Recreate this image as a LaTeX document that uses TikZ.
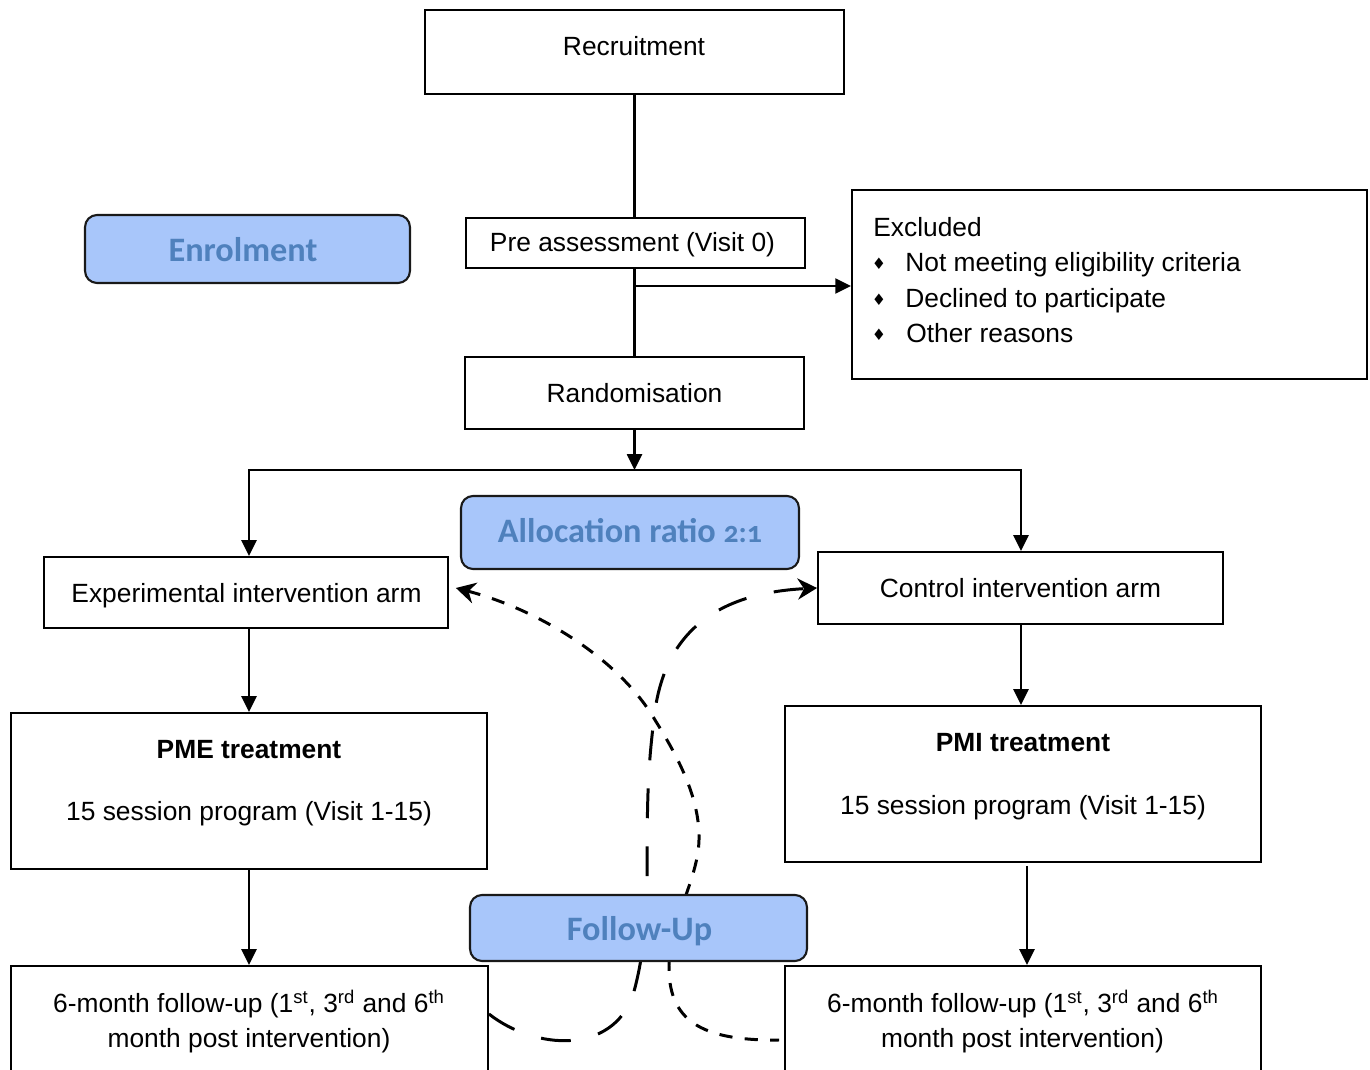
\documentclass[tikz,border=0pt]{standalone}
\usepackage{fontspec}
\setmainfont{Liberation Sans}
\newfontfamily\bluefont[Numbers=OldStyle]{Carlito}
\newfontfamily\symfont{DejaVu Sans}
\usetikzlibrary{arrows.meta}
\definecolor{bfill}{RGB}{168,198,250}
\definecolor{btext}{RGB}{79,129,189}
\begin{document}
\begin{tikzpicture}[x=0.02cm,y=-0.02cm,
  box/.style={draw=black, line width=1.1pt, fill=white, inner sep=0pt},
  bluebox/.style={draw=black!90, line width=1.2pt, fill=bfill, rounded corners=0.24cm, inner sep=0pt},
  txt/.style={anchor=base, inner sep=0pt, font=\fontsize{15}{19.8}\selectfont},
  btxt/.style={anchor=base, inner sep=0pt, text=btext, font=\bluefont\bfseries\fontsize{19.5}{23}\selectfont},
  bul/.style={inner sep=0pt, font=\symfont\fontsize{9}{10}\selectfont},
  conn/.style={line width=1.3pt},
  arr/.style={conn, -{Triangle[length=9pt,width=8.5pt]}},
  longdash/.style={line width=1.7pt, dash pattern=on 17pt off 16pt},
  shortdash/.style={line width=1.7pt, dash pattern=on 7.5pt off 7pt}
]
\useasboundingbox (0,0) rectangle (1370,1070);
\clip (0,0) rectangle (1370,1070);
\fill[white] (0,0) rectangle (1370,1070);

% boxes
\node[box, minimum width=8.38cm, minimum height=1.68cm] (rec) at (634.5,52) {};
\node[txt] (rect) at (634,55.5) {Recruitment};

\node[box, minimum width=6.78cm, minimum height=1.0cm] (pre) at (635.5,243) {};
\node[txt] (pret) at (632.5,251.5) {Pre assessment (Visit 0)};

\node[box, minimum width=10.3cm, minimum height=3.78cm] (excl) at (1109.5,284.5) {};
\node[txt, anchor=base west] (ex0) at (873,236.5) {Excluded};
\node[bul] (b1) at (879,264) {♦};
\node[txt, anchor=base west] (ex1) at (905,271.5) {Not meeting eligibility criteria};
\node[bul] (b2) at (879,300) {♦};
\node[txt, anchor=base west] (ex2) at (905,307.5) {Declined to participate};
\node[bul] (b3) at (879,335) {♦};
\node[txt, anchor=base west] (ex3) at (906,342.5) {Other reasons};

\node[box, minimum width=6.78cm, minimum height=1.44cm] (rand) at (634.5,393) {};
\node[txt] (randt) at (634.5,402.5) {Randomisation};

\node[box, minimum width=8.08cm, minimum height=1.42cm] (exp) at (246,592.5) {};
\node[txt] (expt) at (246.5,602.5) {Experimental intervention arm};

\node[box, minimum width=8.1cm, minimum height=1.44cm] (ctrl) at (1020.5,588) {};
\node[txt] (ctrlt) at (1020.5,597.5) {Control intervention arm};

\node[box, minimum width=9.52cm, minimum height=3.12cm] (pme) at (249,791) {};
\node[txt, font=\fontsize{15}{19.8}\selectfont\bfseries] (pmet) at (249,758.5) {PME treatment};
\node[txt] (pmes) at (249,820.5) {15 session program (Visit 1-15)};

\node[box, minimum width=9.52cm, minimum height=3.12cm] (pmi) at (1023,784) {};
\node[txt, font=\fontsize{15}{19.8}\selectfont\bfseries] (pmit) at (1023,751.5) {PMI treatment};
\node[txt] (pmis) at (1023,814.5) {15 session program (Visit 1-15)};

\node[box, minimum width=9.54cm, minimum height=2.6cm] (ful) at (249.5,1031) {};
\node[txt] (ful1) at (249,1012.5) {6-month follow-up (1\textsuperscript{st}, 3\textsuperscript{rd} and 6\textsuperscript{th}};
\node[txt] (ful2) at (249,1047.5) {month post intervention)};

\node[box, minimum width=9.52cm, minimum height=2.6cm] (fur) at (1023,1031) {};
\node[txt] (fur1) at (1023,1012.5) {6-month follow-up (1\textsuperscript{st}, 3\textsuperscript{rd} and 6\textsuperscript{th}};
\node[txt] (fur2) at (1022.5,1047.5) {month post intervention)};

% connectors
\coordinate (split) at (634.5,470);
\coordinate (lb) at (249,470);
\coordinate (rb) at (1021,470);
\coordinate (exb) at (634.5,286);
\coordinate (pr) at (1027,866);

\draw[conn] (rec.south) -- (rec.south |- pre.north);
\draw[conn] (exb |- pre.south) -- (exb |- rand.north);
\draw[arr] (exb) -- (exb -| excl.west);
\draw[conn, line cap=rect] (lb) -- (rb);
\draw[arr] (rand.south) -- (split);
\draw[arr] (lb) -- (lb |- exp.north);
\draw[arr] (rb) -- (rb |- ctrl.north);
\draw[arr] (lb |- exp.south) -- (lb |- pme.north);
\draw[arr] (rb |- ctrl.south) -- (rb |- pmi.north);
\draw[arr] (lb |- pme.south) -- (lb |- ful.north);
\draw[arr] (pr) -- (pr |- fur.north);

% dashed curves
\draw[shortdash, {Stealth[length=11pt,width=12pt]}-] ([shift={(7,-4.5)}]exp.east)
  .. controls (540,610) and (620,660) .. (655,720)
  .. controls (680,760) and (700,800) .. (699,840)
  .. controls (698,880) and (670,920) .. (669,965)
  .. controls (668,1020) and (700,1041) .. ([shift={(-5,9)}]fur.west);
\draw[longdash, -{Stealth[length=11pt,width=12pt]}] ([shift={(0,-17)}]ful.east)
  .. controls (535,1050) and (612,1055) .. (633,995)
  .. controls (643,960) and (647,920) .. (647,880)
  .. controls (647,800) and (648,770) .. (653,727)
  .. controls (658,670) and (680,595) .. (ctrl.west);

% blue labels
\node[bluebox, minimum width=6.5cm, minimum height=1.36cm] (enr) at (247.5,249) {};
\node[btxt] (enrt) at (243,261.5) {Enrolment};
\node[bluebox, minimum width=6.76cm, minimum height=1.46cm] (alloc) at (630,532.5) {};
\node[btxt] (alloct) at (630,543) {Allocation ratio {\fontsize{17}{20}\selectfont 2:1}};
\node[bluebox, minimum width=6.74cm, minimum height=1.32cm] (fu) at (638.5,928) {};
\node[btxt] (fut) at (639.5,941) {Follow-Up};
\end{tikzpicture}
\end{document}
